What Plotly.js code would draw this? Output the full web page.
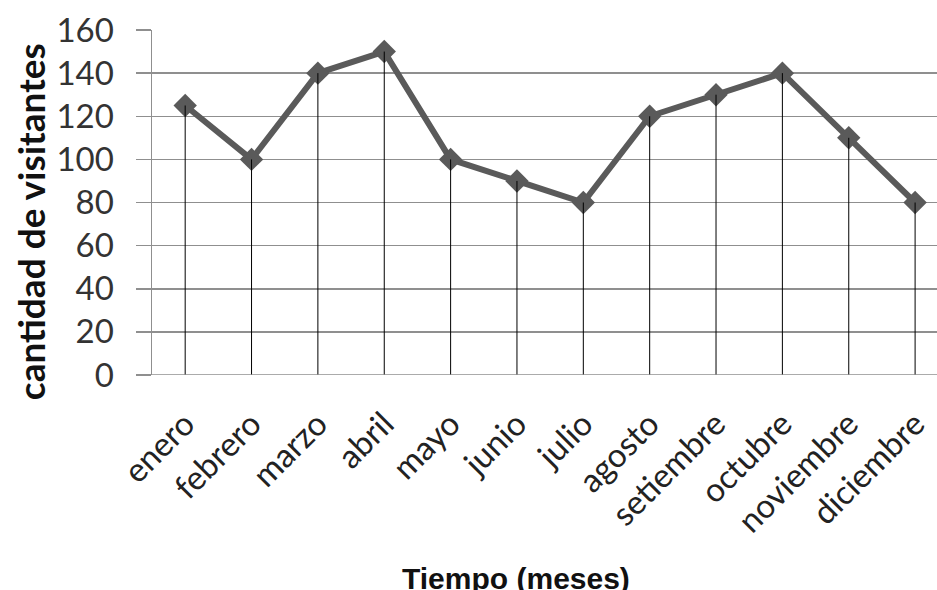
<!DOCTYPE html>
<html>
<head>
<meta charset="utf-8">
<script src="https://cdn.plot.ly/plotly-3.0.1.min.js"></script>
<style>html,body{margin:0;padding:0;background:#fff;}#chart{width:937px;height:590px;}</style>
</head>
<body>
<div id="chart"></div>
<script>
const meses = ["enero","febrero","marzo","abril","mayo","junio","julio","agosto","setiembre","octubre","noviembre","diciembre"];
const visitantes = [125, 100, 140, 150, 100, 90, 80, 120, 130, 140, 110, 80];
const yTicks = [0, 20, 40, 60, 80, 100, 120, 140, 160];

const lineTrace = {
  x: meses, y: visitantes, type: "scatter", mode: "lines+markers",
  line: {color: "#5a5a5a", width: 6},
  marker: {symbol: "diamond", size: 18, color: "#5a5a5a"},
  hoverinfo: "x+y"
};
const dropTrace = {
  x: meses, y: visitantes, type: "scatter", mode: "markers",
  marker: {size: 1, opacity: 0},
  error_y: {type: "data", symmetric: false, array: visitantes.map(() => 0), arrayminus: visitantes, color: "#000", thickness: 1, width: 0},
  hoverinfo: "skip"
};

const layout = {
  width: 937, height: 590,
  margin: {l: 152, r: 0, t: 30, b: 215},
  paper_bgcolor: "#fff", plot_bgcolor: "#fff",
  showlegend: false,
  font: {family: "Lato, 'Open Sans', sans-serif", color: "#222"},
  xaxis: {
    type: "category", range: [-0.5, 11.33],
    tickangle: -45, tickfont: {size: 33, family: "Lato, sans-serif", color: "#222"},
    showgrid: false, zeroline: false, showline: false, ticks: "", ticklabelstandoff: 22
  },
  yaxis: {
    range: [0, 160], tickvals: yTicks, ticktext: yTicks.map(String),
    tickfont: {size: 33, family: "Lato, sans-serif", color: "#333"},
    showgrid: true, gridcolor: "#8f8f8f", gridwidth: 1.5,
    zeroline: false, showline: true, linecolor: "#8f8f8f", linewidth: 1.5,
    ticks: "outside", ticklen: 15, tickcolor: "#8f8f8f", tickwidth: 1.5,
    ticklabelstandoff: 15
  },
  shapes: [{type: "line", xref: "paper", yref: "y", x0: 0, x1: 1, y0: 0, y1: 0, line: {color: "#8f8f8f", width: 1.5}}],
  annotations: [
    {text: "<b>cantidad de visitantes</b>", textangle: -90, xref: "paper", yref: "paper",
     x: 0, xshift: -122, xanchor: "center", yanchor: "middle", y: 0.443, showarrow: false,
     font: {size: 37, family: "Lato, sans-serif", color: "#111"}},
    {text: "<b>Tiempo (meses)</b>", xref: "paper", yref: "paper", x: (516 - 152) / 785, xanchor: "center", y: 0,
     yshift: -203, yanchor: "middle", showarrow: false,
     font: {size: 30, family: "'Liberation Sans Narrow', 'Liberation Sans', sans-serif", color: "#111"}}
  ]
};

Plotly.newPlot("chart", [lineTrace, dropTrace], layout, {displayModeBar: false, staticPlot: true});
</script>
</body>
</html>
